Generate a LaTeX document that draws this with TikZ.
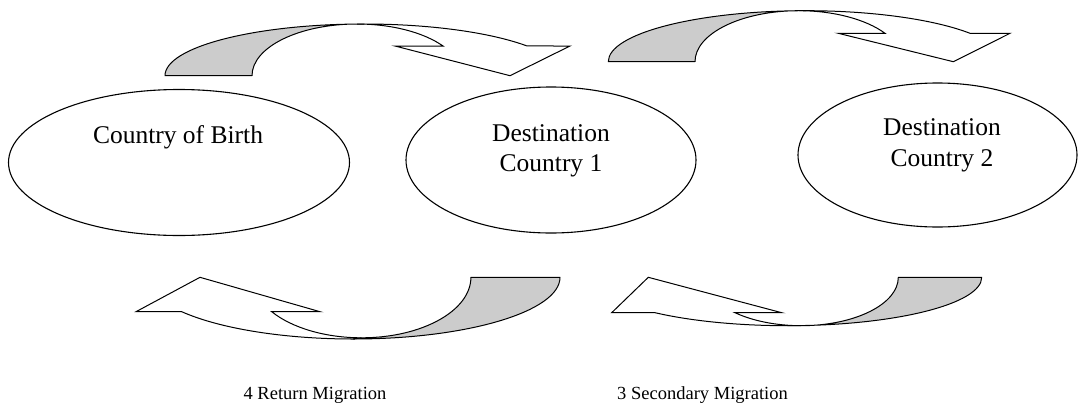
\documentclass[tikz,border=0pt]{standalone}
\usepackage{fontspec}
\setmainfont{Liberation Serif}
\usetikzlibrary{shapes.geometric}
\begin{document}
\begin{tikzpicture}[x=1pt,y=-1pt,
  country/.style={draw, ellipse, line width=1.1pt, inner sep=0pt},
  lbl/.style={font=\fontsize{25.5}{30}\selectfont, anchor=base, inner sep=0pt},
  caption/.style={font=\fontsize{18.5}{22}\selectfont, anchor=base, inner sep=0pt},
  back/.style={draw, fill=black!20, line width=1pt, line join=round},
  front/.style={draw, fill=white, line width=1pt, line join=miter}]
\useasboundingbox (0,0) rectangle (1078,407);

% countries
\node[country, minimum width=341pt, minimum height=146pt] (e1) at (179,162.5) {};
\node[country, minimum width=290pt, minimum height=146pt] (e2) at (551,160) {};
\node[country, minimum width=279pt, minimum height=144pt] (e3) at (937.5,155) {};

\node[lbl] (t1) at (178,143) {Country of Birth};
\node[lbl] (t2a) at (551,141) {Destination};
\node[lbl] (t2b) at (551,171) {Country 1};
\node[lbl] (t3a) at (942,135) {Destination};
\node[lbl] (t3b) at (942,166) {Country 2};

% top arrow 1
\path[back] (165,75.7) arc[start angle=180,end angle=90,x radius=199.1pt,y radius=51.7pt]
  -- (357,24) arc[start angle=90,end angle=180,x radius=105pt,y radius=51.7pt] -- cycle;
\path[front] (364.1,24) arc[start angle=90,end angle=35.07,x radius=199.1pt,y radius=51.7pt]
  -- (570,46) -- (510,75.7) -- (395,46) -- (443,46)
  arc[start angle=35.07,end angle=90,x radius=105pt,y radius=51.7pt] -- cycle;

% top arrow 2
\path[back] (608.3,61.7) arc[start angle=180,end angle=90,x radius=197.6pt,y radius=51pt]
  -- (798.8,10.7) arc[start angle=90,end angle=180,x radius=103.8pt,y radius=51pt] -- cycle;
\path[front] (805.9,10.7) arc[start angle=90,end angle=33.84,x radius=197.6pt,y radius=51pt]
  -- (1010,33.3) -- (953.3,61.7) -- (838.3,33.3) -- (885,33.3)
  arc[start angle=33.84,end angle=90,x radius=103.8pt,y radius=51pt] -- cycle;

% bottom arrow 1 (return)
\path[back] (560,277.3) arc[start angle=0,end angle=-90,x radius=206.7pt,y radius=61.7pt]
  -- (361.6,337.8) arc[start angle=-90,end angle=0,x radius=109.3pt,y radius=60.5pt] -- cycle;
\path[front] (353.3,339) arc[start angle=-90,end angle=-146.12,x radius=206.7pt,y radius=61.7pt]
  -- (136,311.7) -- (200,277.3) -- (320,311.7) -- (271.7,311.7)
  arc[start angle=-145.35,end angle=-90,x radius=109.3pt,y radius=60.5pt] -- cycle;

% bottom arrow 2 (secondary)
\path[back] (981.7,277.3) arc[start angle=0,end angle=-90,x radius=194.2pt,y radius=48.4pt]
  -- (801.2,325.7) arc[start angle=-90,end angle=0,x radius=97.1pt,y radius=48.4pt] -- cycle;
\path[front] (787.5,325.7) arc[start angle=-90,end angle=-133,x radius=194.2pt,y radius=48.4pt]
  -- (611.7,312.7) -- (648.3,277.3) -- (781.7,312.7) -- (735,312.7)
  arc[start angle=-133,end angle=-90,x radius=97.1pt,y radius=48.4pt] -- cycle;

\node[caption] (c4) at (315,399) {4 Return Migration};
\node[caption] (c3) at (702.5,399) {3 Secondary Migration};
\end{tikzpicture}
\end{document}
